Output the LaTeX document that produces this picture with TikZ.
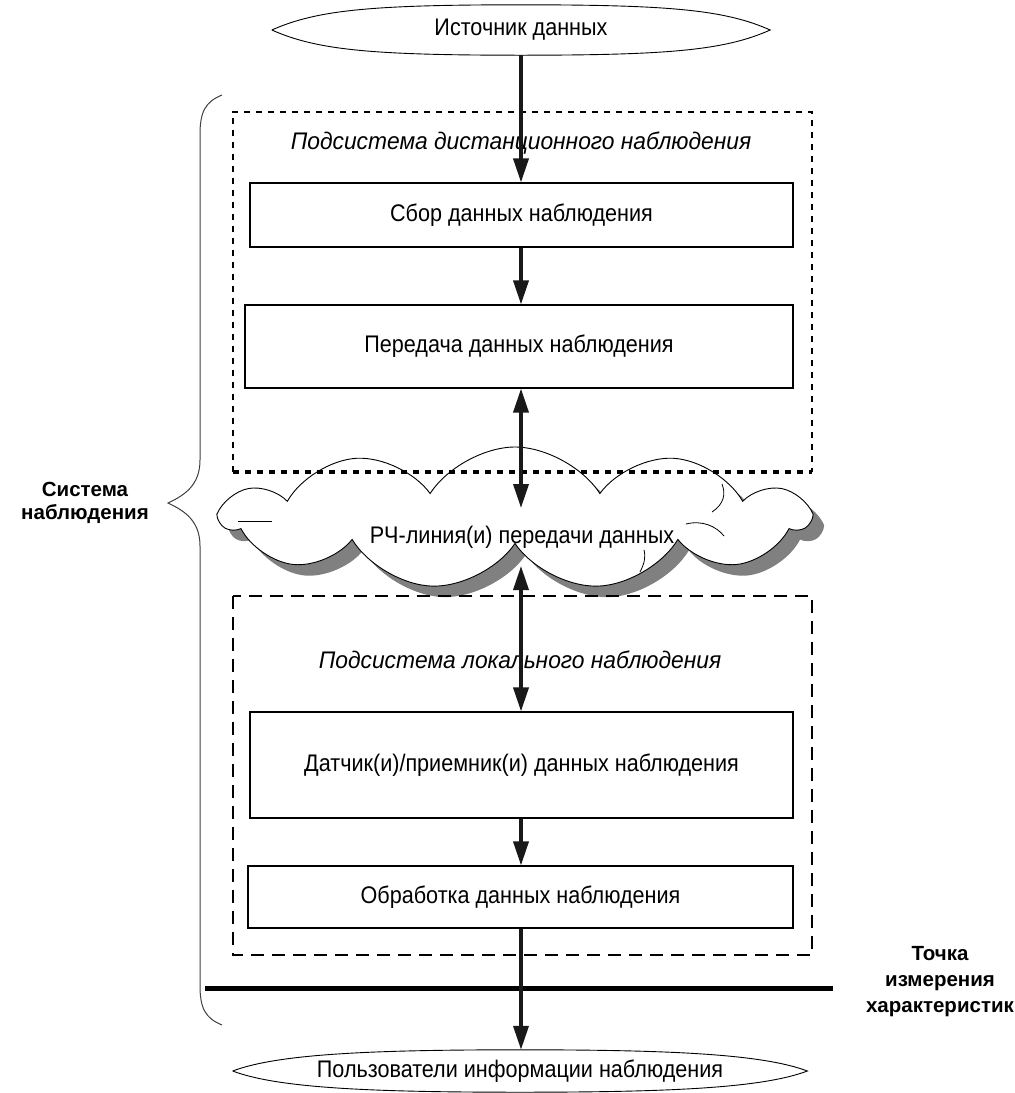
\documentclass[tikz,border=0pt]{standalone}
\usepackage{fontspec}
\setmainfont{Liberation Sans}
\newfontfamily\narrowsans{Liberation Sans}[FakeStretch=0.9]
\newfontfamily\titlesans{Liberation Sans}[FakeStretch=0.95]
\usetikzlibrary{arrows.meta,shapes.geometric,shapes.symbols,shadows,calc}

\begin{document}
\begin{tikzpicture}[x=1pt,y=-1pt,
  tip/.tip={Triangle[length=24pt,width=15pt]},
  label/.style={font=\narrowsans\fontsize{24}{28}\selectfont},
  box/.style={draw, line width=1.1pt, fill=white, inner sep=0pt, label},
  flow/.style={line width=3.6pt, black!90, -tip},
  twoway/.style={line width=3.6pt, black!90, tip-tip},
  lens/.style={ellipse, draw=none, inner sep=0pt, label},
  lensline/.style={line width=0.9pt},
  title/.style={font=\titlesans\fontsize{24}{28}\selectfont\itshape},
  side/.style={font=\fontsize{20.5}{26}\selectfont\bfseries, align=center},
  finedash/.style={line width=1.6pt, dash pattern=on 6pt off 6pt},
  longdash/.style={line width=1.6pt, dash pattern=on 13pt off 8pt},
  heavydot/.style={line width=4pt, dash pattern=on 6pt off 6pt}
]
\path[use as bounding box] (0,0) rectangle (1015,1093);

% wavy cloud of the radio link with its grey shadow
\node[cloud, cloud puffs=11, cloud puff arc=115, aspect=4,
  minimum width=586pt, minimum height=142pt, draw, line width=0.9pt, fill=white,
  drop shadow={shadow xshift=11pt, shadow yshift=-11pt, fill=black!50, opacity=1}]
  (rf) at (515,518) {};
\node[label] (rftext) at (522,537) {РЧ-линия(и) передачи данных};
% small inner strokes of the cloud outline
\draw[line width=0.8pt] (238,521) -- (272,521);
\draw[line width=0.8pt] (686,524) .. controls (702,520) and (716,526) .. (724,536);
\draw[line width=0.8pt] (722,484) .. controls (726,494) and (724,504) .. (712,512);
\draw[line width=0.8pt] (640,572) .. controls (644,564) and (646,558) .. (644,550);
\coordinate (rfa) at (521,508);
\coordinate (rfb) at (521,566);

% data source
\node[lens, minimum width=498pt, minimum height=50pt] (src) at (521,30) {Источник данных};
\draw[lensline] (src.west) .. controls +(45,-20) and +(-150,0) .. (src.north)
  .. controls +(150,0) and +(-45,-20) .. (src.east)
  .. controls +(-45,20) and +(150,0) .. (src.south)
  .. controls +(-150,0) and +(45,20) .. (src.west);

% remote observation subsystem
\node[minimum width=579pt, minimum height=360pt, inner sep=0pt] (remote) at (522.5,292) {};
\draw[finedash] (remote.south west) -- (remote.north west) -- (remote.north east) -- (remote.south east);
\draw[heavydot] (remote.south west) -- (remote.south east);
\node[title] (remotetitle) at (521,143) {Подсистема дистанционного наблюдения};

\node[box, minimum width=543pt, minimum height=64pt] (collect) at (521.5,215) {Сбор данных наблюдения};
\node[box, minimum width=548pt, minimum height=83pt] (transfer) at (519,346.5) {Передача данных наблюдения};

% local observation subsystem
\node[minimum width=579pt, minimum height=359pt, inner sep=0pt] (local) at (522.5,775.5) {};
\draw[longdash] (local.north west) rectangle (local.south east);
\node[title] (localtitle) at (520,660) {Подсистема локального наблюдения};

\node[box, minimum width=543pt, minimum height=106pt] (sensor) at (521.5,765) {Датчик(и)/приемник(и) данных наблюдения};
\node[box, minimum width=545pt, minimum height=62pt] (process) at (520.5,897) {Обработка данных наблюдения};

% measurement point
\coordinate (mpl) at (205,988);
\coordinate (mpr) at (833,988);
\draw[line width=5pt] (mpl) -- (mpr);
\node[side] (mplabel) at (940,982) {Точка\\измерения\\характеристик};

% users
\node[lens, minimum width=500pt, minimum height=42pt] (users) at (520,1071) {Пользователи информации наблюдения};
\draw[lensline] (users.west) .. controls +(45,-17) and +(-150,0) .. (users.north)
  .. controls +(150,0) and +(-45,-17) .. (users.east)
  .. controls +(-45,17) and +(150,0) .. (users.south)
  .. controls +(-150,0) and +(45,17) .. (users.west);

% brace of the whole observation system
\coordinate (bt) at (222,95);
\coordinate (bm) at (168,503);
\coordinate (bb) at (222,1025);
\draw[line width=1pt, black!75] (bt) .. controls (205,102) and (200,112) .. (200,135)
  -- (200,460) .. controls (200,485) and (185,495) .. (bm)
  .. controls (185,511) and (200,521) .. (200,546)
  -- (200,985) .. controls (200,1008) and (205,1018) .. (bb);
\node[side, font=\fontsize{20.5}{23}\selectfont\bfseries] (syslabel) at (85,503) {Система\\наблюдения};

% connectors
\draw[flow] (src.south) -- (src.south |- collect.north);
\draw[flow] (src.south |- collect.south) -- (src.south |- transfer.north);
\draw[twoway] (src.south |- transfer.south) -- (rfa);
\draw[twoway] (rfb) -- (src.south |- sensor.north);
\draw[flow] (src.south |- sensor.south) -- (src.south |- process.north);
\draw[flow] (src.south |- process.south) -- (users.north -| src.south);
\end{tikzpicture}
\end{document}
